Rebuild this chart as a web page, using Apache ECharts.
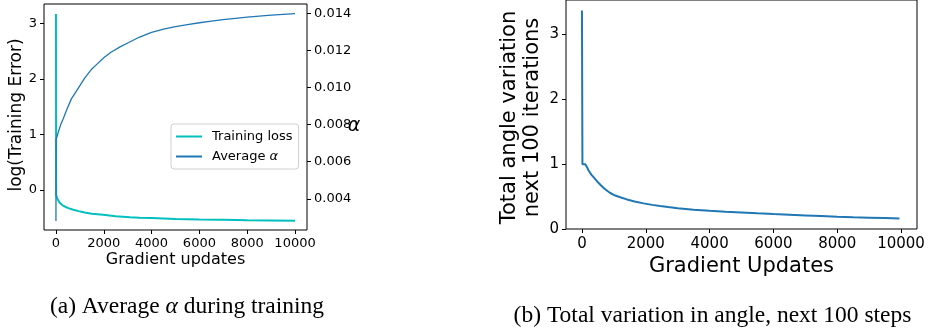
<!DOCTYPE html>
<html>
<head>
<meta charset="utf-8">
<script src="https://cdn.jsdelivr.net/npm/echarts@6/dist/echarts.min.js"></script>
<style>
  html, body { margin: 0; padding: 0; background: #fff; }
  #chart { width: 935px; height: 332px; }
</style>
</head>
<body>
<div id="chart"></div>
<script>
// panel (a): training loss and average alpha
const lossSteps = [0, 8, 30, 80, 167, 280, 400, 550, 724, 950, 1200, 1500, 1977, 2500, 3092, 3500, 4000, 5000, 6000, 7000, 8000, 9000, 10000];
const lossValues = [3.17, -0.09, -0.13, -0.18, -0.24, -0.28, -0.31, -0.335, -0.36, -0.385, -0.41, -0.43, -0.45, -0.475, -0.495, -0.503, -0.51, -0.525, -0.535, -0.542, -0.548, -0.552, -0.556];
const alphaSteps = [0, 5, 100, 200, 300, 450, 650, 800, 1000, 1200, 1500, 1750, 2000, 2300, 2700, 3000, 3500, 4000, 4500, 5000, 5500, 6000, 6500, 7000, 7500, 8000, 8500, 9000, 9500, 10000];
const alphaValues = [0.0028, 0.0072, 0.0076, 0.0080, 0.0083, 0.0088, 0.0094, 0.0097, 0.0101, 0.0105, 0.0110, 0.0113, 0.0116, 0.0119, 0.0122, 0.0124, 0.01272, 0.01297, 0.01314, 0.01328, 0.01339, 0.01349, 0.01358, 0.01366, 0.01373, 0.01379, 0.01385, 0.0139, 0.01394, 0.01398];
// panel (b): total angle variation
const angleSteps = [0, 15, 60, 100, 150, 200, 250, 300, 363, 430, 500, 600, 700, 800, 886, 1000, 1200, 1409, 1650, 1929, 2200, 2452, 2700, 3000, 3500, 4000, 4500, 5000, 5500, 6000, 6500, 7000, 7500, 8000, 8500, 9000, 9500, 9950];
const angleValues = [3.37, 1.0, 0.99, 1.0, 0.96, 0.91, 0.87, 0.835, 0.80, 0.76, 0.72, 0.67, 0.625, 0.585, 0.555, 0.525, 0.49, 0.456, 0.425, 0.395, 0.372, 0.354, 0.338, 0.32, 0.298, 0.28, 0.267, 0.255, 0.242, 0.23, 0.22, 0.21, 0.20, 0.19, 0.182, 0.175, 0.168, 0.16];

const xTicks = [0, 2000, 4000, 6000, 8000, 10000];
const lossTicks = [0, 1, 2, 3];
const alphaTicks = [0.004, 0.006, 0.008, 0.010, 0.012, 0.014];
const angleTicks = [0, 1, 2, 3];

const zip = (xs, ys) => xs.map((x, i) => [x, ys[i]]);

const sans = 'DejaVu Sans';
const serif = 'Liberation Serif';
const tickStyle = { show: true, length: 4, lineStyle: { color: '#000', width: 1 } };

function xAxis(grid, size, margin) {
    return {
        type: 'value', gridIndex: grid, min: -500, max: 10500,
        axisLine: { show: false, onZero: false },
        splitLine: { show: false },
        axisTick: Object.assign({ customValues: xTicks }, tickStyle),
        axisLabel: { customValues: xTicks, color: '#000', fontFamily: sans, fontSize: size, margin: margin,
            formatter: v => String(v) }
    };
}

function yAxis(grid, min, max, ticks, size, pos, fmt) {
    return {
        type: 'value', gridIndex: grid, min: min, max: max, position: pos,
        axisLine: { show: false, onZero: false },
        splitLine: { show: false },
        axisTick: Object.assign({ customValues: ticks }, tickStyle),
        axisLabel: { customValues: ticks, color: '#000', fontFamily: sans, fontSize: size, margin: 7,
            formatter: fmt || (v => String(v)) }
    };
}

function label(text, x, y, size, opts) {
    return Object.assign({
        type: 'text', x: x, y: y,
        style: {
            text: text, fill: '#000', fontFamily: sans, fontSize: size,
            textAlign: 'center', textVerticalAlign: 'middle', align: 'center', verticalAlign: 'middle'
        }
    }, opts || {});
}

const myChart = echarts.init(document.getElementById('chart'));
myChart.setOption({
    animation: false,
    backgroundColor: '#fff',
    grid: [
        { left: 44, top: 4, right: 628, bottom: 102, show: true, borderColor: '#000', borderWidth: 1, backgroundColor: 'transparent' },
        { left: 566, top: -3, right: 18, bottom: 103, show: true, borderColor: '#000', borderWidth: 1, backgroundColor: 'transparent' }
    ],
    xAxis: [xAxis(0, 13, 7), xAxis(1, 15, 8)],
    yAxis: [
        yAxis(0, -0.725, 3.35, lossTicks, 13, 'left'),
        yAxis(0, 0.00232, 0.0145, alphaTicks, 13, 'right', v => v.toFixed(3)),
        yAxis(1, 0, 3.53, angleTicks, 15, 'left')
    ],
    legend: {
        orient: 'vertical', left: 171, top: 124,
        padding: [6, 6, 6, 5], itemGap: 7, itemWidth: 26, itemHeight: 2,
        icon: 'rect',
        borderColor: '#d0d0d0', borderWidth: 1, borderRadius: 3, backgroundColor: '#fff',
        textStyle: { fontFamily: sans, fontSize: 13, color: '#000', padding: [0, 0, 0, 5],
            rich: { i: { fontFamily: sans, fontSize: 13, fontStyle: 'italic', color: '#000' } } },
        formatter: n => n === 'Average α' ? 'Average {i|α}' : n,
        data: ['Training loss', 'Average α']
    },
    series: [
        {
            name: 'Training loss', type: 'line', xAxisIndex: 0, yAxisIndex: 0,
            data: zip(lossSteps, lossValues), showSymbol: false, symbol: 'none',
            color: '#00bfbf', lineStyle: { width: 2, color: '#00bfbf' }
        },
        {
            name: 'Average α', type: 'line', xAxisIndex: 0, yAxisIndex: 1,
            data: zip(alphaSteps, alphaValues), showSymbol: false, symbol: 'none',
            color: '#1f77b4', lineStyle: { width: 1.3, color: '#1f77b4' }
        },
        {
            name: 'Angle variation', type: 'line', xAxisIndex: 1, yAxisIndex: 2,
            data: zip(angleSteps, angleValues), showSymbol: false, symbol: 'none',
            color: '#1f77b4', lineStyle: { width: 2, color: '#1f77b4' }
        }
    ],
    graphic: [
        label('log(Training Error)', 17, 115, 17, { rotation: Math.PI / 2 }),
        label('Gradient updates', 175.5, 260, 16),
        label('α', 354, 126, 19, { style: { text: 'α', fill: '#000', fontFamily: sans, fontSize: 19, fontStyle: 'italic',
            textAlign: 'center', textVerticalAlign: 'middle', align: 'center', verticalAlign: 'middle' } }),
        label('Total angle variation', 510, 117.5, 21, { rotation: Math.PI / 2 }),
        label('next 100 iterations', 532.5, 117.5, 21, { rotation: Math.PI / 2 }),
        label('Gradient Updates', 741.5, 267, 21),
        {
            type: 'text', x: 187, y: 307,
            style: {
                text: '(a) Average {i|α} during training', fill: '#000', fontFamily: serif, fontSize: 23.5,
                textAlign: 'center', textVerticalAlign: 'middle', align: 'center', verticalAlign: 'middle',
                rich: { i: { fontFamily: serif, fontSize: 23.5, fontStyle: 'italic', fill: '#000' } }
            }
        },
        label('(b) Total variation in angle, next 100 steps', 712.5, 316, 23.5,
            { style: { text: '(b) Total variation in angle, next 100 steps', fill: '#000', fontFamily: serif, fontSize: 23.5,
                textAlign: 'center', textVerticalAlign: 'middle', align: 'center', verticalAlign: 'middle' } })
    ]
});
</script>
</body>
</html>
